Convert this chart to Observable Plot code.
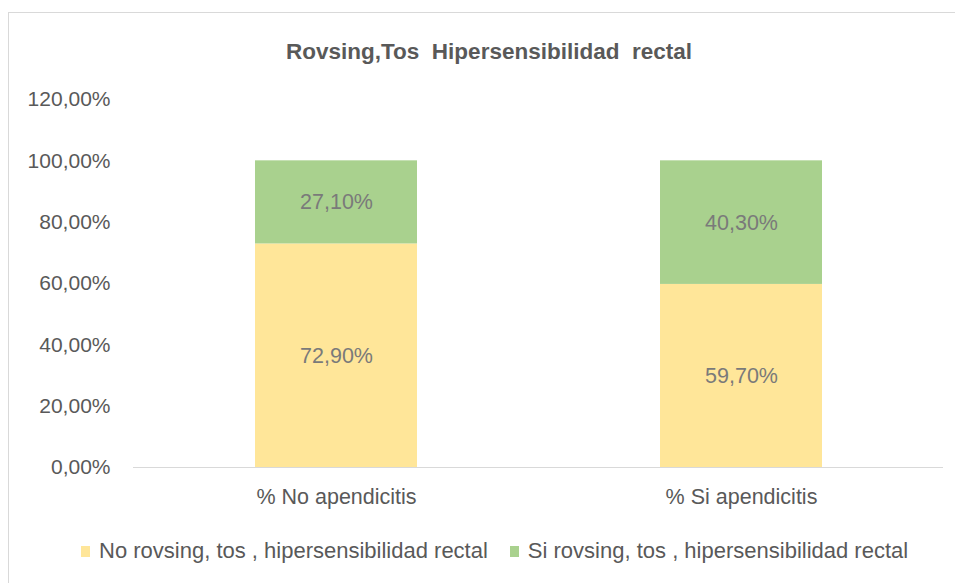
<!DOCTYPE html>
<html>
<head>
<meta charset="utf-8">
<script src="https://cdn.jsdelivr.net/npm/d3@7"></script>
<script src="https://cdn.jsdelivr.net/npm/@observablehq/plot@0.6"></script>
<style>
  body { margin: 0; background: #fff; font-family: "Liberation Sans", Arial, sans-serif; }
  #frame { position: absolute; left: 8px; top: 12px; width: 980px; height: 600px; border: 1px solid #d9d9d9; box-sizing: border-box; }
  #title { position: absolute; left: 0; width: 978px; top: 38px; text-align: center; font-size: 22.5px; font-weight: bold; color: #595959; white-space: pre; line-height: 28px; }
  #chart { position: absolute; left: 0; top: 80px; }
  #legend { position: absolute; left: 81px; top: 537px; font-size: 22px; line-height: 28px; color: #595959; display: flex; align-items: center; white-space: pre; }
  .sw { display: inline-block; width: 9px; height: 11px; margin-right: 9px; }
</style>
</head>
<body>
<div id="frame"></div>
<div id="title">Rovsing,Tos  Hipersensibilidad  rectal</div>
<div id="chart"></div>
<div id="legend"></div>
<script>
const categories = ["% No apendicitis", "% Si apendicitis"];
const seriesNames = ["No rovsing, tos , hipersensibilidad rectal", "Si rovsing, tos , hipersensibilidad rectal"];
const noValues = [0.729, 0.597];
const siValues = [0.271, 0.403];
const yTicks = [0, 0.2, 0.4, 0.6, 0.8, 1.0, 1.2];
const colors = ["#FFE699", "#A9D18E"];

const data = [];
categories.forEach((c, i) => {
  data.push({category: c, series: seriesNames[0], value: noValues[i]});
  data.push({category: c, series: seriesNames[1], value: siValues[i]});
});

const fmt = d => (d * 100).toFixed(2).replace(".", ",") + "%";

const plot = Plot.plot({
  width: 955,
  height: 440,
  marginTop: 19,
  marginBottom: 53,
  marginLeft: 133,
  marginRight: 12,
  style: {fontFamily: "'Liberation Sans', Arial, sans-serif", fontSize: "21px", color: "#595959", background: "transparent"},
  x: {domain: categories, paddingInner: 0.6, paddingOuter: 0.3, label: null},
  y: {domain: [0, 1.2], label: null},
  color: {domain: seriesNames, range: colors},
  marks: [
    Plot.axisY({ticks: yTicks, tickFormat: fmt, tickSize: 0, tickPadding: 23, fill: "#595959", fontSize: 21, label: null}),
    Plot.axisX({tickSize: 0, tickPadding: 21, fill: "#595959", fontSize: 21.5, label: null}),
    Plot.barY(data, {x: "category", y: "value", fill: "series", order: seriesNames}),
    Plot.ruleY([0], {stroke: "#d9d9d9", strokeWidth: 1}),
    Plot.text(data, Plot.stackY({x: "category", y: "value", z: "series", order: seriesNames, text: d => fmt(d.value), fill: "#7a7a7a", fontSize: 21.5}))
  ]
});
document.getElementById("chart").appendChild(plot);

const legend = document.getElementById("legend");
seriesNames.forEach((s, i) => {
  const item = document.createElement("span");
  item.style.display = "inline-flex";
  item.style.alignItems = "center";
  item.style.marginRight = i === 0 ? "22px" : "0";
  const sw = document.createElement("span");
  sw.className = "sw";
  sw.style.background = colors[i];
  item.appendChild(sw);
  item.appendChild(document.createTextNode(s));
  legend.appendChild(item);
});
</script>
</body>
</html>
